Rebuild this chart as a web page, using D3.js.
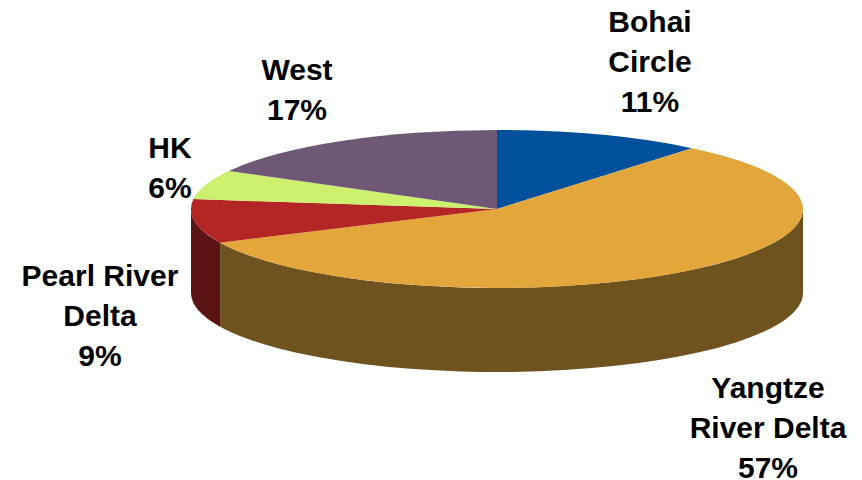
<!DOCTYPE html>
<html>
<head>
<meta charset="utf-8">
<script src="https://cdn.jsdelivr.net/npm/d3@7/dist/d3.min.js"></script>
<style>
html,body{margin:0;padding:0;background:#fff}
svg{display:block}
text{font-family:"Liberation Sans",Arial,sans-serif;font-weight:700;font-size:30px;fill:#000}
</style>
</head>
<body>
<svg id="chart" width="862" height="480"></svg>
<script>
const regions = ["Bohai Circle","Yangtze River Delta","Pearl River Delta","HK","West"];
const shares = [11,57,9,6,17];
const topColors = ["#00509c","#e2a63a","#b42525","#cdf06e","#6f5876"];
const wallColors = ["#002a52","#6f531f","#5c1313","#6a7c39","#3a2e3d"];
const labelLines = [["Bohai","Circle","11%"],["Yangtze","River Delta","57%"],["Pearl River","Delta","9%"],["HK","6%"],["West","17%"]];
const labelAnchors = [[650,22],[768,388],[100,276],[170,148],[297,70]];

const cx = 497, cy = 209, rx = 306, ry = 79, depth = 84;
const svg = d3.select("#chart");

const slices = d3.pie().sort(null).value(d => d)(shares);
const px = a => cx + rx * Math.sin(a);
const py = a => cy - ry * Math.cos(a);

function topPath(s){
  const large = s.endAngle - s.startAngle > Math.PI ? 1 : 0;
  return `M${cx},${cy}L${px(s.startAngle)},${py(s.startAngle)}A${rx},${ry} 0 ${large} 1 ${px(s.endAngle)},${py(s.endAngle)}Z`;
}
// Outer wall: only the part of the rim facing the viewer (angles between 90 and 270 degrees)
function wallPath(s){
  const a0 = Math.max(s.startAngle, Math.PI/2), a1 = Math.min(s.endAngle, 3*Math.PI/2);
  if (a1 <= a0) return null;
  return `M${px(a0)},${py(a0)}A${rx},${ry} 0 0 1 ${px(a1)},${py(a1)}L${px(a1)},${py(a1)+depth}A${rx},${ry} 0 0 0 ${px(a0)},${py(a0)+depth}Z`;
}

svg.append("g").selectAll("path").data(slices).join("path")
  .attr("d", wallPath).attr("fill", (d,i) => wallColors[i]);
svg.append("g").selectAll("path").data(slices).join("path")
  .attr("d", topPath).attr("fill", (d,i) => topColors[i]);

const labels = svg.append("g").selectAll("text").data(labelLines).join("text")
  .attr("text-anchor","middle")
  .attr("transform",(d,i)=>`translate(${labelAnchors[i][0]},${labelAnchors[i][1]})`);
labels.selectAll("tspan").data(d=>d).join("tspan")
  .attr("x",0).attr("y",(d,i)=>i*40+10).text(d=>d);
</script>
</body>
</html>
